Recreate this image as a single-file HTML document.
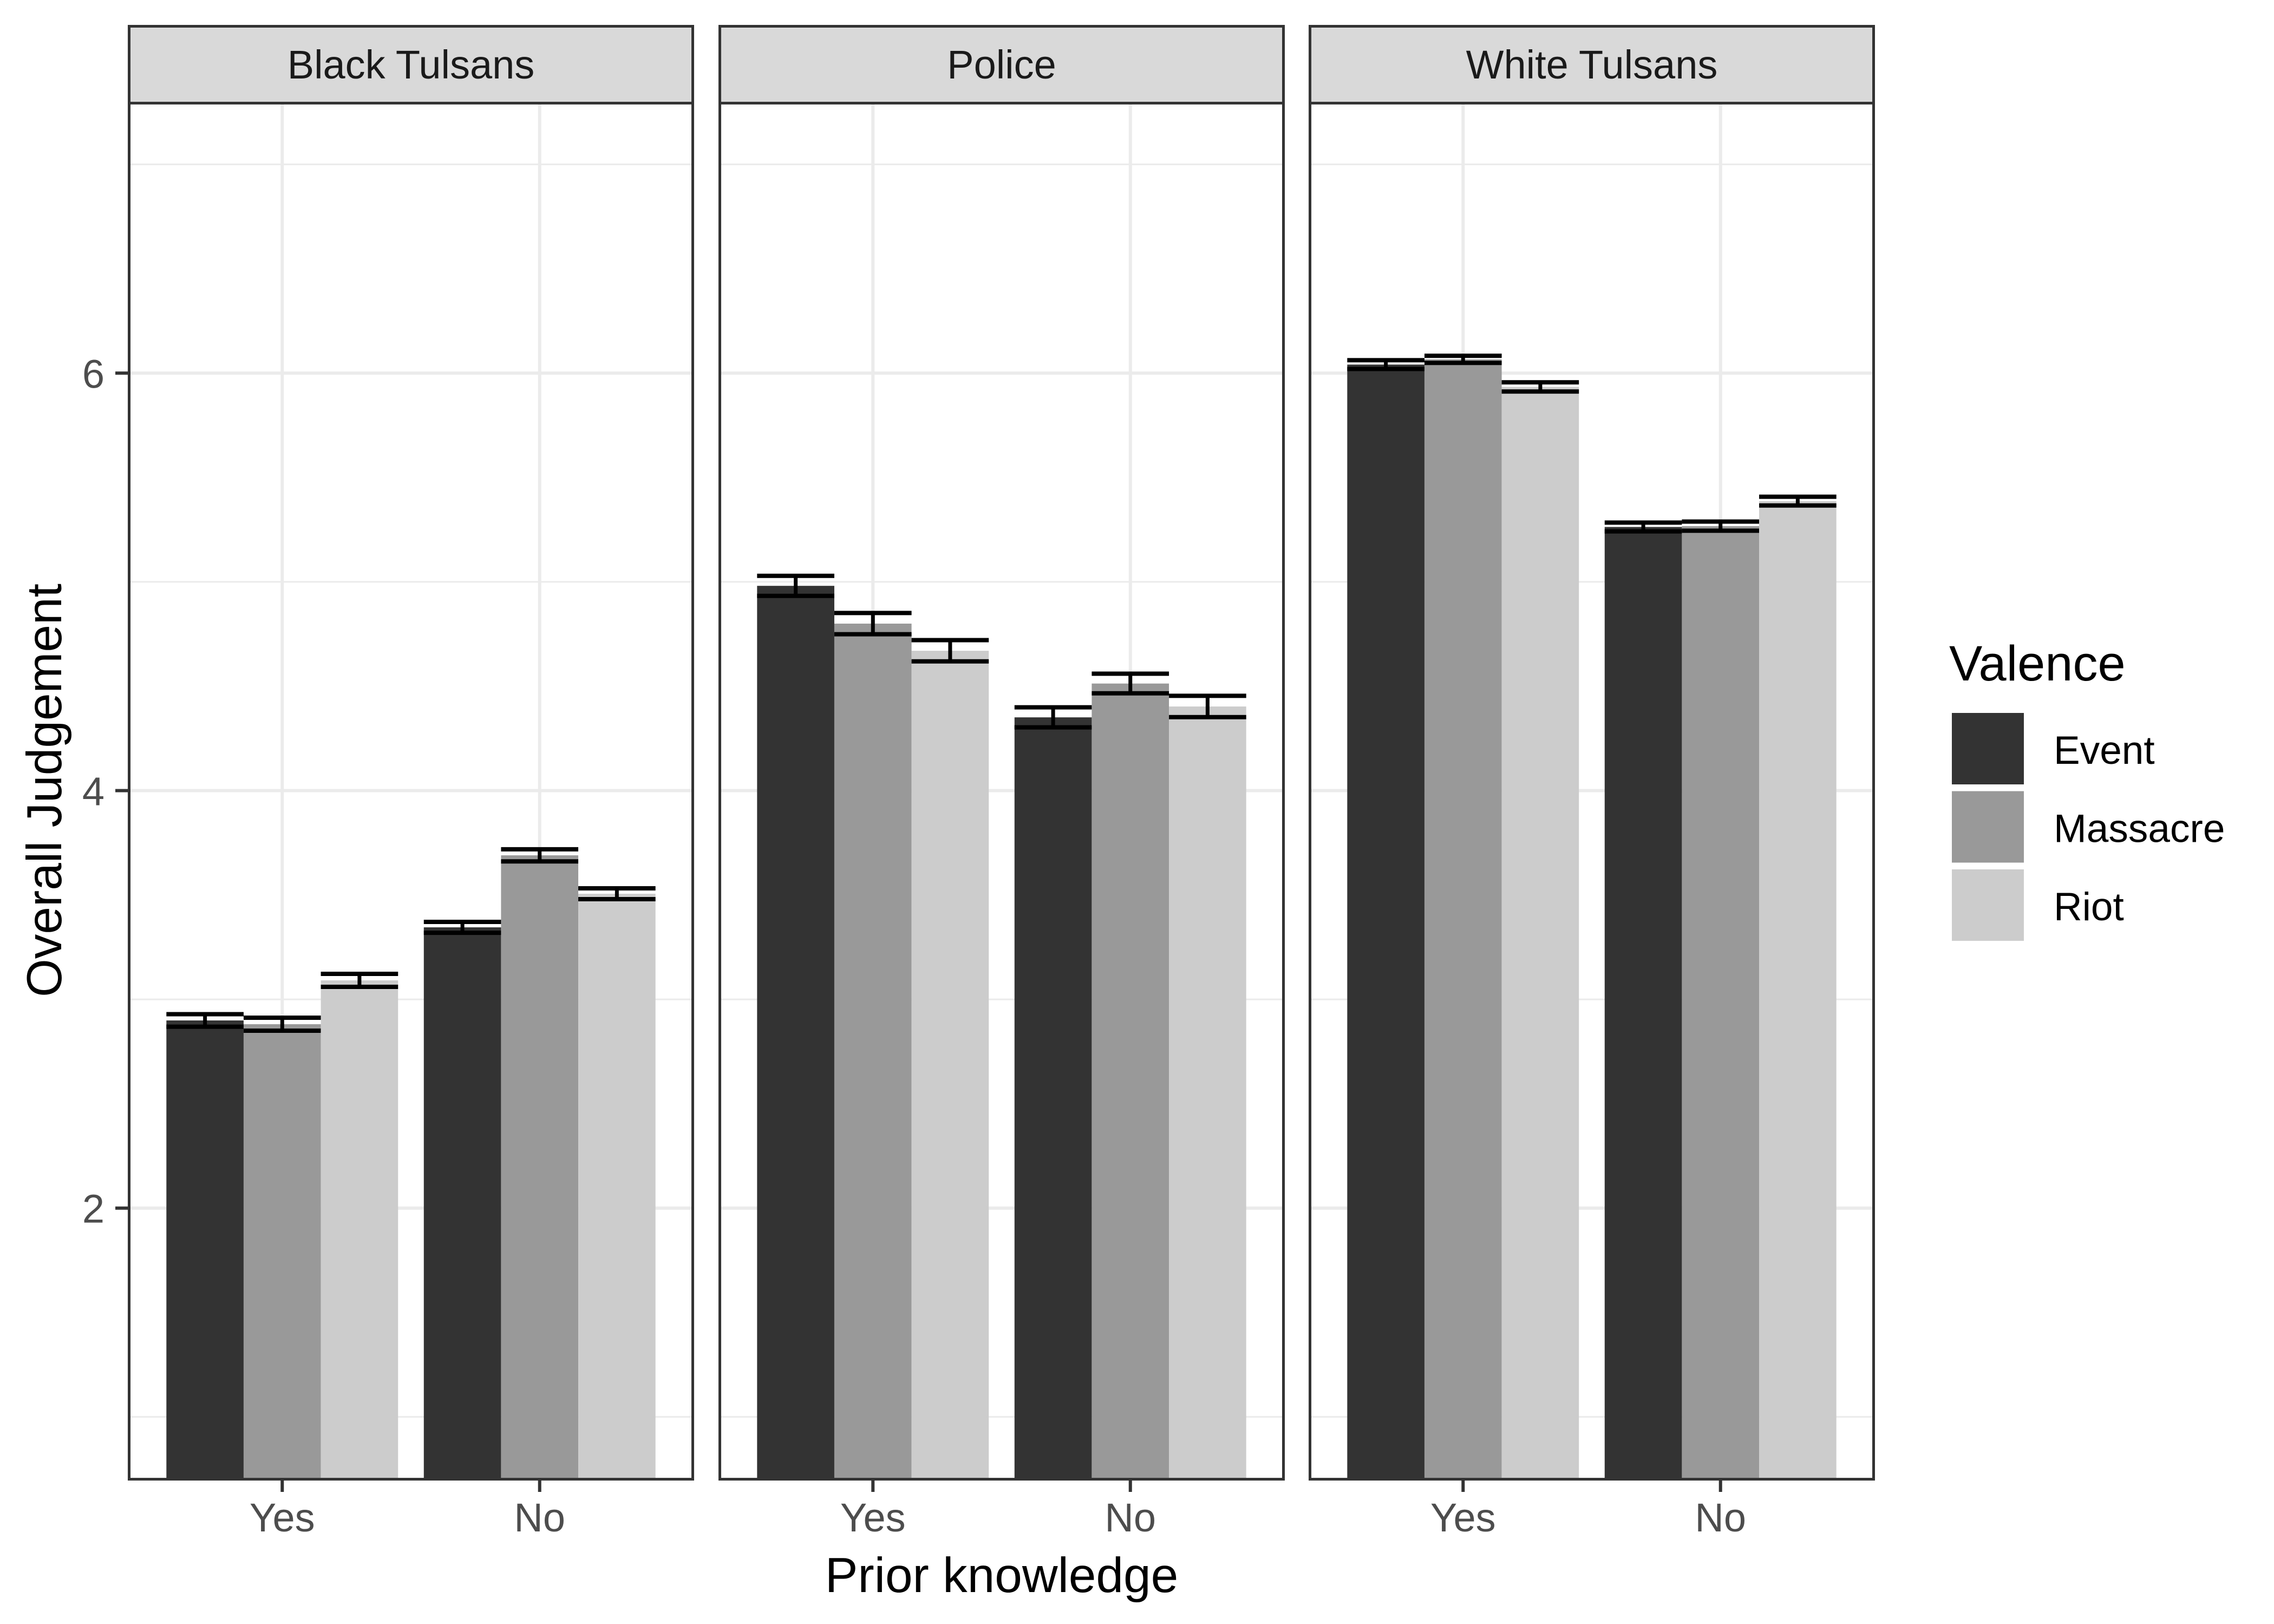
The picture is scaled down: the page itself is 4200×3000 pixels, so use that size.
<!DOCTYPE html>
<html><head><meta charset="utf-8"><style>
html,body{margin:0;padding:0;background:#fff;}
svg{display:block;font-family:"Liberation Sans",Arial,sans-serif;}
</style></head><body>
<svg id="chart" width="4200" height="3000" viewBox="0 0 4200 3000" xmlns="http://www.w3.org/2000/svg">
<rect width="4200" height="3000" fill="#fff"/>
<g id="panels"></g>
<text x="1850" y="2941" font-size="91" text-anchor="middle" fill="#000">Prior knowledge</text>
<text transform="translate(113,1460) rotate(-90)" font-size="91" text-anchor="middle" fill="#000">Overall Judgement</text>
<g id="legend">
<text x="3600" y="1257" font-size="92" fill="#000">Valence</text>
</g>
</svg>
<script>
const facets = ["Black Tulsans", "Police", "White Tulsans"];
const categories = ["Yes", "No"];
const series = ["Event", "Massacre", "Riot"];
const seriesColors = ["#333333", "#999999", "#cccccc"];
// means[facet][category] = [Event, Massacre, Riot]
const blackMeans = [[2.899, 2.881, 3.091], [3.345, 3.690, 3.506]];
const policeMeans = [[4.981, 4.800, 4.670], [4.351, 4.513, 4.403]];
const whiteMeans = [[6.041, 6.066, 5.934], [5.263, 5.267, 5.387]];
const blackSE = [[0.030, 0.031, 0.031], [0.026, 0.029, 0.026]];
const policeSE = [[0.048, 0.051, 0.051], [0.048, 0.047, 0.051]];
const whiteSE = [[0.021, 0.017, 0.022], [0.021, 0.022, 0.021]];
const yTicks = [2, 4, 6];
const yMinor = [1, 3, 5, 7];

const means = [blackMeans, policeMeans, whiteMeans];
const ses = [blackSE, policeSE, whiteSE];
const NS = "http://www.w3.org/2000/svg";
const yMin = 0.7, yMax = 7.3, plotTop = 188, plotBot = 2733;
function yScale(v){ return plotBot - (v - yMin) / (yMax - yMin) * (plotBot - plotTop); }
const panelW = 1046, panelLefts = [236, 1327, 2417];
function xScale(p, u){ return panelLefts[p] + (u - 0.4) / 2.2 * panelW; }
function mk(tag, attrs, parent){ const e = document.createElementNS(NS, tag); for (const k in attrs) e.setAttribute(k, attrs[k]); parent.appendChild(e); return e; }
const root = document.getElementById("panels");

facets.forEach((f, p) => {
  const g = mk("g", {}, root);
  
  
  const L = panelLefts[p], R = L + panelW;
  yMinor.forEach(v => {
    const l = mk("line", {x1: L, x2: R, y1: yScale(v), y2: yScale(v), stroke: "#ebebeb", "stroke-width": 3}, g);
    
    
  });
  yTicks.forEach(v => {
    const l = mk("line", {x1: L, x2: R, y1: yScale(v), y2: yScale(v), stroke: "#ebebeb", "stroke-width": 6}, g);
    
    
  });
  categories.forEach((c, ci) => {
    const l = mk("line", {x1: xScale(p, ci + 1), x2: xScale(p, ci + 1), y1: plotTop, y2: plotBot, stroke: "#ebebeb", "stroke-width": 6}, g);
    
    
  });
  categories.forEach((c, ci) => {
    series.forEach((s, si) => {
      const v = means[p][ci][si], se = ses[p][ci][si];
      const x0 = xScale(p, ci + 1 - 0.45 + si * 0.3), x1 = xScale(p, ci + 1 - 0.45 + (si + 1) * 0.3);
      const b = mk("rect", {x: x0, y: yScale(v), width: x1 - x0, height: plotBot - yScale(v), fill: seriesColors[si]}, g);
      
      
      const eg = mk("g", {stroke: "#000"}, g);
      
      
      const cx = (x0 + x1) / 2;
      mk("line", {x1: x0, x2: x1, y1: yScale(v + se), y2: yScale(v + se), "stroke-width": 8}, eg);
      mk("line", {x1: x0, x2: x1, y1: yScale(v - se), y2: yScale(v - se), "stroke-width": 8}, eg);
      mk("line", {x1: cx, x2: cx, y1: yScale(v + se), y2: yScale(v - se), "stroke-width": 7}, eg);
    });
    const tx = xScale(p, ci + 1);
    const t = mk("line", {x1: tx, x2: tx, y1: 2735, y2: 2756, stroke: "#333", "stroke-width": 6}, g);
    
    
    const tl = mk("text", {x: tx, y: 2829, "font-size": 74, "text-anchor": "middle", fill: "#4d4d4d"}, g);
    tl.textContent = c;
    
    
  });
  const border = mk("rect", {x: L + 2.5, y: 190.5, width: panelW - 5, height: 2542, fill: "none", stroke: "#333", "stroke-width": 5}, g);
  
  
  const strip = mk("rect", {x: L + 2.5, y: 48.5, width: panelW - 5, height: 142, fill: "#d9d9d9", stroke: "#333", "stroke-width": 5}, g);
  
  
  const st = mk("text", {x: L + panelW / 2, y: 145, "font-size": 74, "text-anchor": "middle", fill: "#1a1a1a"}, g);
  st.textContent = f;
  
  
});

const ya = mk("g", {}, root);


yTicks.forEach(v => {
  const t = mk("line", {x1: 213, x2: 237, y1: yScale(v), y2: yScale(v), stroke: "#333", "stroke-width": 6}, ya);
  
  
  const l = mk("text", {x: 193, y: yScale(v) + 27, "font-size": 74, "text-anchor": "end", fill: "#4d4d4d"}, ya);
  l.textContent = v;
  
  
});

const leg = document.getElementById("legend");
series.forEach((s, i) => {
  const k = mk("rect", {x: 3605, y: 1317 + i * 144.5, width: 133, height: 132, fill: seriesColors[i]}, leg);
  
  
  const t = mk("text", {x: 3793, y: 1411 + i * 144.5, "font-size": 73, fill: "#000"}, leg);
  t.textContent = s;
  
  
});
</script>
</body></html>
